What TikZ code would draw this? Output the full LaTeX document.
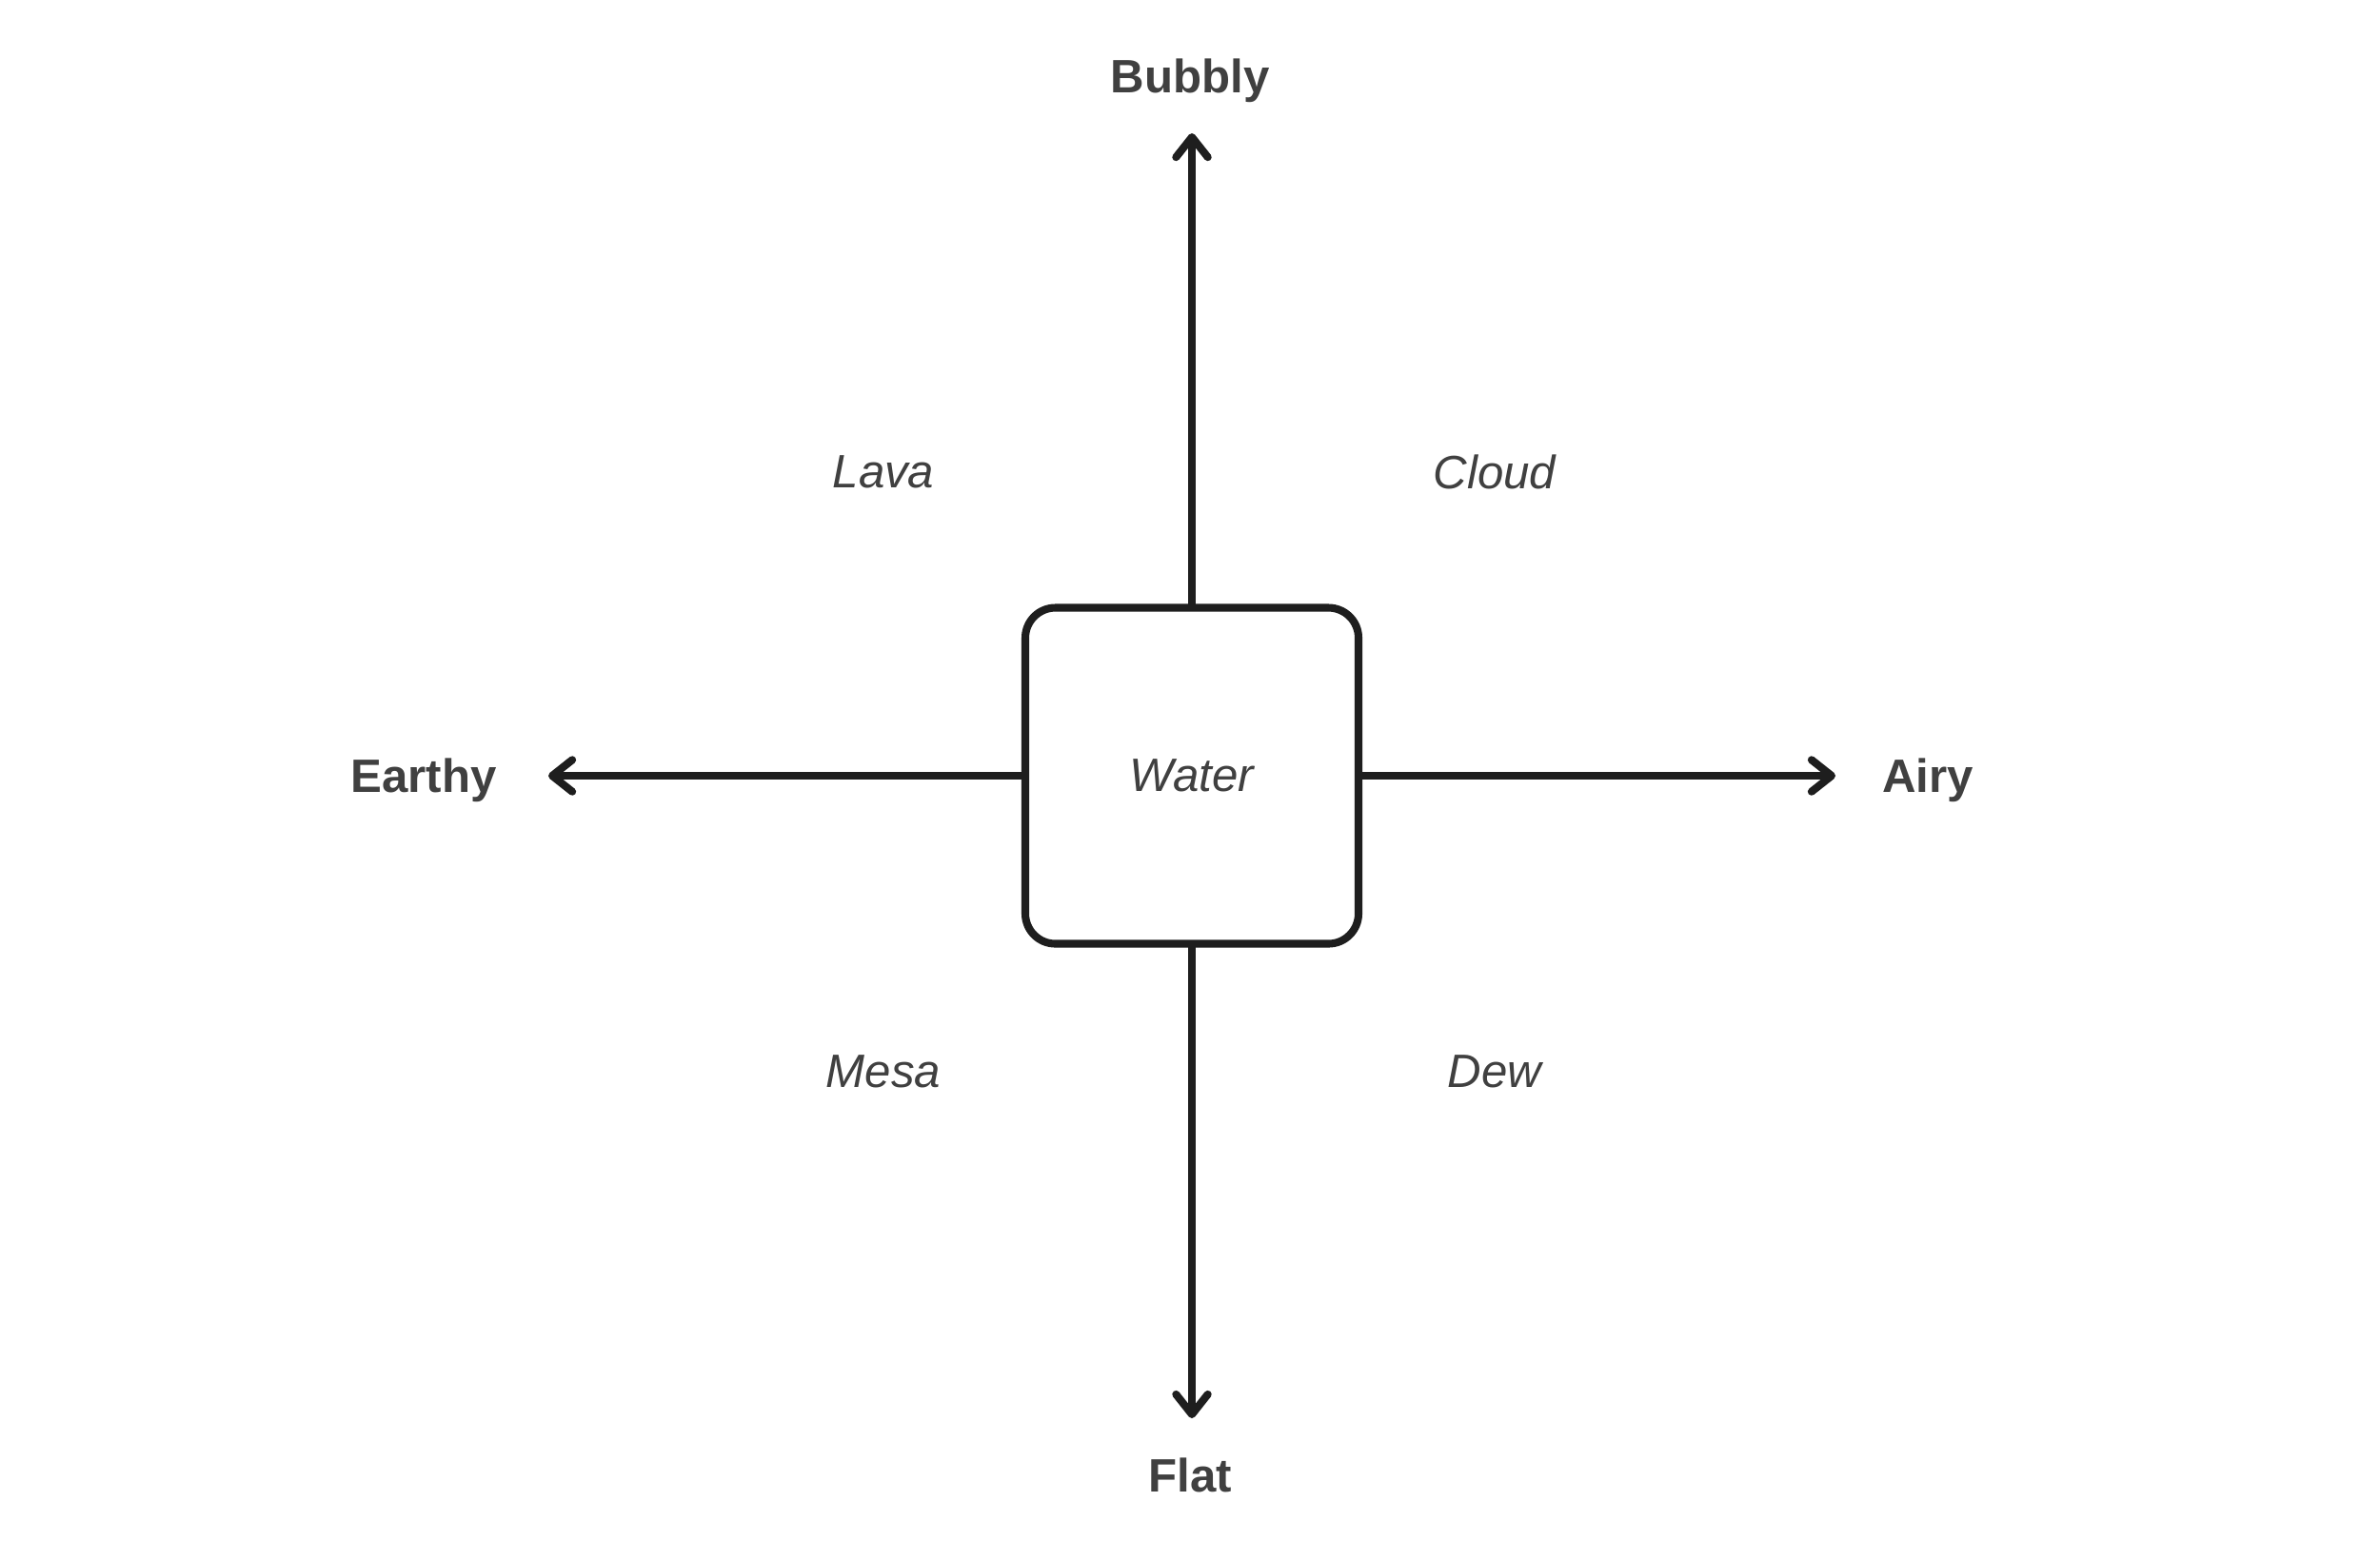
\documentclass[tikz,border=0pt]{standalone}
\usepackage{fontspec}
\setmainfont{Liberation Sans}
\usetikzlibrary{arrows.meta, positioning}
\definecolor{linedark}{RGB}{30, 30, 30}
\definecolor{textdark}{RGB}{64, 64, 64}

\begin{document}
\begin{tikzpicture}[
    font=\fontsize{14}{16}\selectfont,
    axisline/.style={draw=linedark, line width=2.3pt, line cap=round,
      -{Straight Barb[length=6pt, width=9.5pt, line width=2.3pt, round]}},
    polename/.style={text=textdark, font=\fontsize{14}{16}\selectfont\bfseries},
    quadname/.style={text=textdark, font=\fontsize{14}{16}\selectfont\itshape},
    centerbox/.style={draw=linedark, line width=2.3pt, rounded corners=9pt,
      minimum width=3.5cm, minimum height=3.53cm, text=textdark,
      font=\fontsize{14}{16}\selectfont\itshape}
  ]
  \useasboundingbox (0,0) rectangle (25,-16.18);
  % centre
  \node[centerbox] (water) at (12.52,-8.15) {Water};
  % arrow tips
  \coordinate (tipN) at (12.52,-1.40);
  \coordinate (tipS) at (12.52,-14.90);
  \coordinate (tipW) at (5.76,-8.15);
  \coordinate (tipE) at (19.28,-8.15);
  % axes
  \draw[axisline] (water.north) -- (tipN);
  \draw[axisline] (water.south) -- (tipS);
  \draw[axisline] (water.west) -- (tipW);
  \draw[axisline] (water.east) -- (tipE);
  % pole names
  \node[polename] (bubbly) at (12.50,-0.85) {Bubbly};
  \node[polename] (flat) at (12.50,-15.50) {Flat};
  \node[polename] (earthy) at (4.45,-8.20) {Earthy};
  \node[polename] (airy) at (20.25,-8.20) {Airy};
  % quadrants
  \node[quadname] (lava) at (9.28,-4.96) {Lava};
  \node[quadname] (cloud) at (15.70,-4.96) {Cloud};
  \node[quadname] (mesa) at (9.28,-11.26) {Mesa};
  \node[quadname] (dew) at (15.70,-11.26) {Dew};
\end{tikzpicture}
\end{document}
